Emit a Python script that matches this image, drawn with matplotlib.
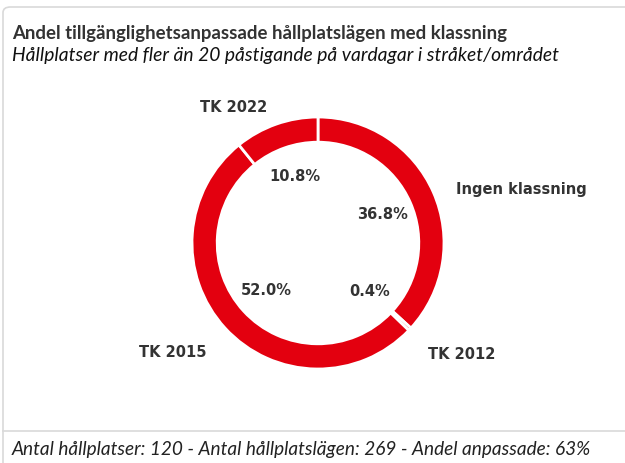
import matplotlib.pyplot as plt
from matplotlib.patches import FancyBboxPatch
from matplotlib.lines import Line2D

# Data
categories = ['Ingen klassning', 'TK 2012', 'TK 2015', 'TK 2022']
shares = [36.8, 0.4, 52.0, 10.8]

title = 'Andel tillgänglighetsanpassade hållplatslägen med klassning'
subtitle = 'Hållplatser med fler än 20 påstigande på vardagar i stråket/området'
footer = 'Antal hållplatser: 120 - Antal hållplatslägen: 269 - Andel anpassade: 63%'

red = '#e3000f'
textcol = '#333333'

fig = plt.figure(figsize=(6.25, 4.63), dpi=100)
fig.patch.set_facecolor('white')

# Card border
card = FancyBboxPatch((3 / 625, -0.1), 1.1, (463 - 7) / 463 + 0.1,
                      boxstyle='round,pad=0,rounding_size=0.012',
                      transform=fig.transFigure, facecolor='none',
                      edgecolor='#d9d9d9', lw=1.2)
fig.add_artist(card)
fig.add_artist(Line2D([3 / 625, 1], [1 - 431 / 463] * 2, transform=fig.transFigure,
                      color='#d9d9d9', lw=1.2))

fig.text(12 / 625, 1 - 33 / 463, title, fontsize=13.4, color='#333333',
         fontfamily='Lato', fontweight='bold', va='center')
fig.text(12 / 625, 1 - 56 / 463, subtitle, fontsize=13.9, color='#111111',
         fontfamily='Lato', style='italic', va='center')
fig.text(12 / 625, 1 - 450 / 463, footer, fontsize=13.7, color='#222222',
         fontfamily='Lato', style='italic', va='center')

# Donut
r_px = 126
cx, cy = 318, 243
ax = fig.add_axes([(cx - r_px) / 625, 1 - (cy + r_px) / 463, 2 * r_px / 625, 2 * r_px / 463])
wedges, texts, autotexts = ax.pie(
    shares, labels=categories, startangle=90, counterclock=False,
    colors=[red] * len(shares), radius=1.0,
    wedgeprops=dict(width=0.2, edgecolor='white', linewidth=2),
    autopct='%.1f%%', pctdistance=0.56, labeldistance=1.2,
    textprops=dict(fontsize=10.5, fontweight='bold', color=textcol, fontfamily='DejaVu Sans'))
for t in texts:
    x, y = t.get_position()
    t.set_position((x, y - 0.06))
ax.set_xlim(-1, 1)
ax.set_ylim(-1, 1)
ax.set_aspect('equal')

fig.savefig('out.png', dpi=100)
